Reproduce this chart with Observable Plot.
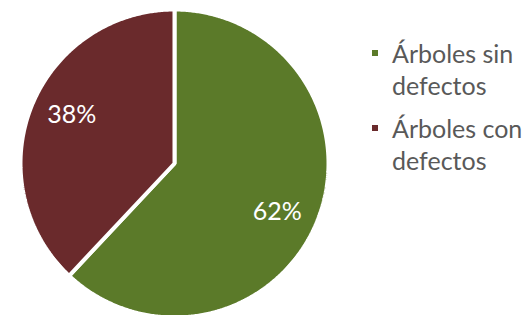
<!DOCTYPE html>
<html><head><meta charset="utf-8">
<script src="https://cdn.jsdelivr.net/npm/d3@7"></script>
<script src="https://cdn.jsdelivr.net/npm/@observablehq/plot@0.6"></script>
<style>
body{margin:0;background:#fff;}
#wrap{position:relative;width:525px;height:315px;overflow:hidden;}
#chart{position:absolute;left:0;top:0;}
#legend{position:absolute;left:372px;top:37px;font-family:Lato,sans-serif;font-size:25px;color:#595959;line-height:32px;}
.item{position:relative;padding-left:20px;margin-bottom:11px;}
.sw{position:absolute;left:0;top:13px;width:6px;height:6px;}
</style></head><body>
<div id="wrap"><div id="chart"></div><div id="legend"></div></div>
<script>
const categories = ["Árboles sin defectos", "Árboles con defectos"];
const legendLines = [["Árboles sin", "defectos"], ["Árboles con", "defectos"]];
const values = [62, 38];
const labels = ["62%", "38%"];
const colors = ["#5b7a29", "#6a2a2c"];

const arcs = d3.pie().sort(null).value(d => d)(values);
const pts = [];
arcs.forEach((a, i) => {
  pts.push({cat: categories[i], x: 0, y: 0});
  const n = Math.ceil((a.endAngle - a.startAngle) / (Math.PI / 360));
  for (let k = 0; k <= n; k++) {
    const t = a.startAngle + (a.endAngle - a.startAngle) * k / n;
    pts.push({cat: categories[i], x: Math.sin(t), y: Math.cos(t)});
  }
});
const labelRadius = 0.737, labelTurn = 0.06;
const labelData = arcs.map((a, i) => {
  const m = (a.startAngle + a.endAngle) / 2 + labelTurn;
  return {label: labels[i], x: labelRadius * Math.sin(m), y: labelRadius * Math.cos(m)};
});

const chart = Plot.plot({
  width: 360, height: 315,
  marginLeft: 20, marginRight: 32, marginTop: 9, marginBottom: 0,
  x: {domain: [-1, 1], axis: null},
  y: {domain: [-0.987, 1], axis: null},
  color: {domain: categories, range: colors},
  marks: [
    Plot.line(pts, {x: "x", y: "y", z: "cat", fill: "cat", stroke: "white", strokeWidth: 4, curve: "linear-closed", strokeLinejoin: "miter"}),
    Plot.text(labelData, {x: "x", y: "y", text: "label", fill: "white", fontSize: 25, fontFamily: "Lato, sans-serif"})
  ]
});
document.getElementById("chart").appendChild(chart);

const legend = document.getElementById("legend");
legendLines.forEach((lines, i) => {
  const it = document.createElement("div");
  it.className = "item";
  const sw = document.createElement("span");
  sw.className = "sw";
  sw.style.background = colors[i];
  it.appendChild(sw);
  lines.forEach(l => { const d = document.createElement("div"); d.textContent = l; it.appendChild(d); });
  legend.appendChild(it);
});
</script>
</body></html>
